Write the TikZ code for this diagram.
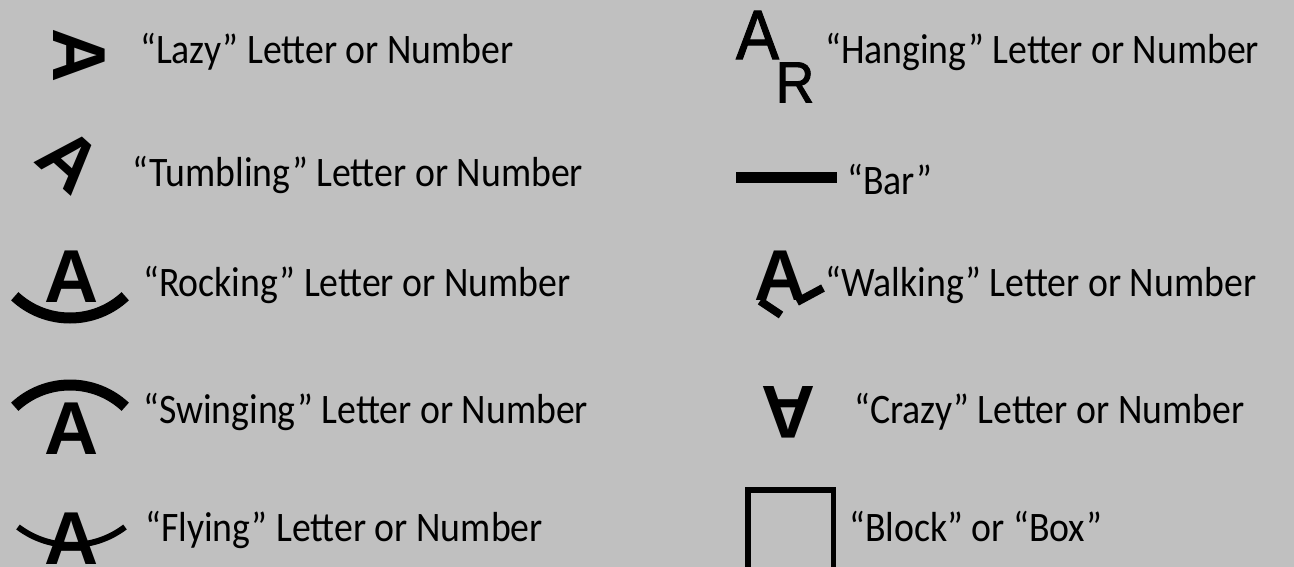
\documentclass[tikz,border=0pt]{standalone}
\usepackage{fontspec}
\setmainfont[FakeStretch=0.9]{Carlito}
\newfontfamily\symfont{Liberation Sans}
\newfontfamily\hangfont[FakeStretch=0.92,FakeBold=1.5]{Liberation Sans}
\definecolor{bggray}{RGB}{192,192,192}

\begin{document}
\begin{tikzpicture}[x=1pt, y=-1pt,
  lbl/.style={anchor=base west, inner sep=0pt, font=\fontsize{42}{50}\selectfont},
  sym/.style={inner sep=0pt, font=\symfont\bfseries\fontsize{#1}{#1}\selectfont}, sym/.default=75,
  hangsym/.style={inner sep=0pt, font=\hangfont\fontsize{#1}{#1}\selectfont},
  band/.style={line width=#1, line cap=butt}, band/.default=11pt]
\fill[bggray] (0,0) rectangle (1294,567);
\useasboundingbox (0,0) rectangle (1294,567);

% left column
\node[sym, rotate=-90] (lazyA) at (79,56) {A};
\node[lbl] (lazy) at (140,64) {“Lazy” Letter or Number};

\node[sym, rotate=-42] (tumbA) at (70,160) {A};
\node[lbl] (tumb) at (132,186) {“Tumbling” Letter or Number};

\node[sym] (rockA) at (71.5,277) {A};
\draw[band] (70,237) ++(133:81) arc[start angle=133, end angle=47, radius=81];
\node[lbl] (rock) at (143,296) {“Rocking” Letter or Number};

\node[sym] (swingA) at (71.5,429) {A};
\draw[band] (70,466) ++(-133:81) arc[start angle=-133, end angle=-47, radius=81];
\node[lbl] (swing) at (143,423) {“Swinging” Letter or Number};

\node[sym] (flyA) at (71.5,539) {A};
\draw[band=6pt] (71.5,456.5) ++(127.2:88.5) arc[start angle=127.2, end angle=52.8, radius=88.5];
\node[lbl] (fly) at (145,541) {“Flying” Letter or Number};

% right column
\node[hangsym=70] (hangA) at (757.5,35) {A};
\node[hangsym=58] (hangR) at (795,82.5) {R};
\node[lbl] (hang) at (825,64) {“Hanging” Letter or Number};

\fill (736,172) rectangle (837,183);
\node[lbl] (bar) at (847,195) {“Bar”};

\node[sym=72] (walkA) at (780,276) {A};
\draw[band=8pt] (760,301) -- (781,315);
\draw[band=8pt] (797,302) -- (823,288);
\node[lbl] (walk) at (825,296) {“Walking” Letter or Number};

\node[sym, rotate=180] (crazyA) at (788,412) {A};
\node[lbl] (crazy) at (854,423) {“Crazy” Letter or Number};

\draw[band=5.5pt] (748,572) -- (748,490) -- (833.5,490) -- (833.5,572);
\node[lbl] (block) at (849,541) {“Block” or “Box”};
\end{tikzpicture}
\end{document}
